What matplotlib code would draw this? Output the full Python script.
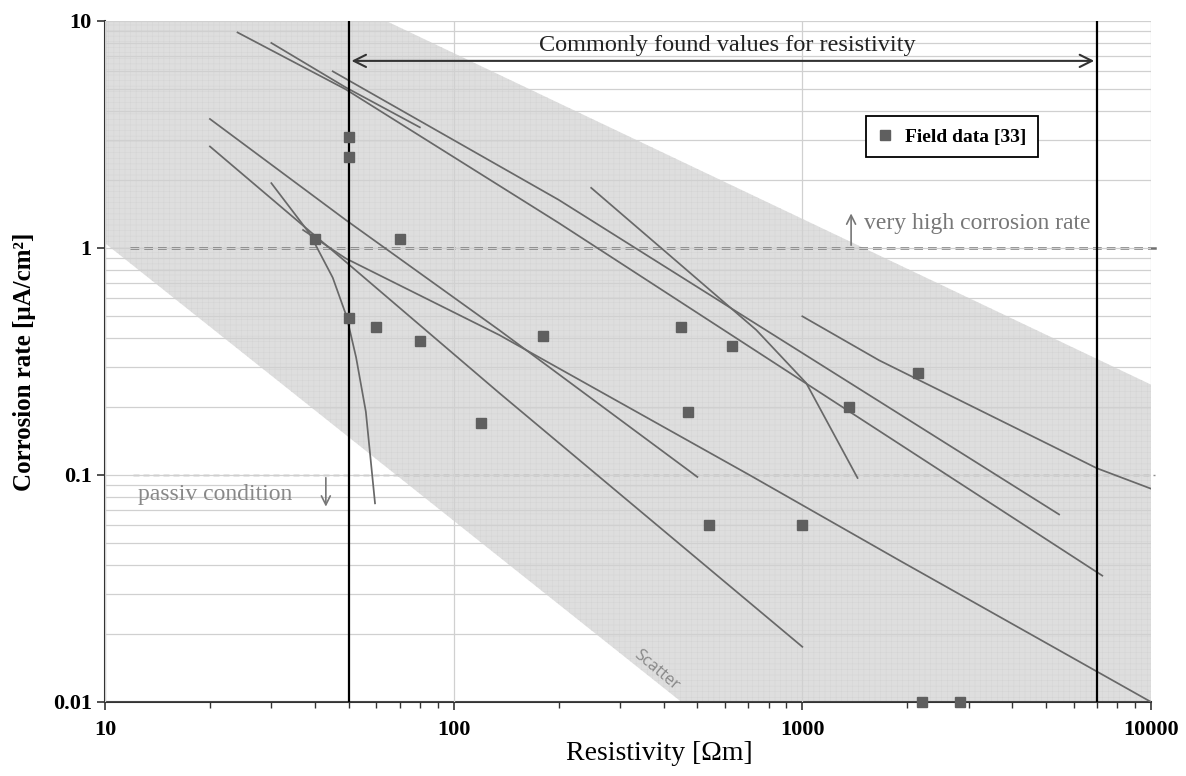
import numpy as np
import matplotlib.pyplot as plt

plt.rcParams["font.family"] = ["Liberation Serif", "DejaVu Serif"]
plt.rcParams["hatch.linewidth"] = 0.3

# field data [33]
field_res = [50, 50, 40, 70, 50, 60, 80, 120, 180, 450, 470, 630, 540, 1000, 2150, 1360, 2200, 2830]
field_rate = [3.08, 2.52, 1.1, 1.1, 0.49, 0.45, 0.39, 0.17, 0.41, 0.45, 0.19, 0.37, 0.06, 0.06, 0.28, 0.20, 0.01, 0.01]

# literature relations (resistivity, corrosion rate)
line_a_res = [24, 49, 200, 7250]
line_a_rate = [8.9, 5.0, 1.29, 0.036]
line_b_res = [30, 49, 80]
line_b_rate = [8.0, 5.1, 3.4]
line_c_res = [45, 200, 5450]
line_c_rate = [6.0, 1.63, 0.067]
line_d_res = [20, 49, 135, 500]
line_d_rate = [3.7, 1.33, 0.435, 0.098]
line_e_res = [20, 49, 135, 1000]
line_e_rate = [2.8, 0.87, 0.23, 0.0175]
line_f_res = [30, 38.6, 45, 49.3, 52.5, 56, 59.5]
line_f_rate = [1.93, 1.16, 0.74, 0.5, 0.33, 0.19, 0.075]
line_g_res = [37, 49, 135, 705, 1900, 10000]
line_g_rate = [1.2, 0.9, 0.414, 0.1, 0.042, 0.01]
line_h_res = [248, 445, 738, 1026, 1440]
line_h_rate = [1.84, 0.85, 0.435, 0.254, 0.097]
line_i_res = [1000, 1660, 7000, 10000]
line_i_rate = [0.5, 0.32, 0.107, 0.087]

lines = [(line_a_res, line_a_rate), (line_b_res, line_b_rate), (line_c_res, line_c_rate),
         (line_d_res, line_d_rate), (line_e_res, line_e_rate), (line_f_res, line_f_rate),
         (line_g_res, line_g_rate), (line_h_res, line_h_rate), (line_i_res, line_i_rate)]

# scatter band
band_upper_res = [10, 64, 10000]
band_upper_rate = [10, 10, 0.25]
band_lower_res = [10, 450, 10000]
band_lower_rate = [1.05, 0.01, 0.01]

common_range = [50, 7000]

fig = plt.figure(figsize=(11.86, 7.76), dpi=100)
ax = fig.add_axes([0.0885, 0.0954, 0.8820, 0.8776])
ax.set_xscale("log")
ax.set_yscale("log")
ax.set_xlim(10, 10000)
ax.set_ylim(0.01, 10)

band_x = band_upper_res + band_lower_res[::-1]
band_y = band_upper_rate + band_lower_rate[::-1]
ax.fill(band_x, band_y, facecolor="#dedede", edgecolor="#d3d3d3", lw=0, hatch="+++", zorder=0)

ax.set_axisbelow(False)
ax.grid(True, which="major", axis="x", color="#d0d0d0", lw=0.9, zorder=1)
ax.grid(True, which="both", axis="y", color="#d0d0d0", lw=0.9, zorder=1)

ax.text(382, 0.0138, "Scatter", rotation=-40, color="#888888", fontsize=12,
        family=["Open Sans"], ha="center", va="center", zorder=2)

ax.plot([11.8, 10500], [1, 1], ls=(0, (3.5, 2.0)), color="#707070", lw=1.8, clip_on=False, zorder=2)
ax.plot([12, 10300], [0.1, 0.1], ls=(0, (4.3, 2.9)), color="#8e8e8e", lw=1.0, clip_on=False, zorder=2)

for res, rate in lines:
    ax.plot(res, rate, color="#686868", lw=1.25, zorder=3)

for xv in common_range:
    ax.plot([xv, xv], [0.01, 10], color="black", lw=1.6, zorder=4)

ax.annotate("", xy=(common_range[0], 6.67), xytext=(common_range[1], 6.67),
            arrowprops=dict(arrowstyle="<->", color="#333333", lw=1.5, mutation_scale=22), zorder=4)
ax.text(610, 7.83, "Commonly found values for resistivity", ha="center", va="center",
        fontsize=17.5, color="#222222")

ax.annotate("", xy=(1380, 1.46), xytext=(1380, 1.0),
            arrowprops=dict(arrowstyle="->", color="#777777", lw=1.2, mutation_scale=16))
ax.text(1500, 1.28, "very high corrosion rate", ha="left", va="center", fontsize=17, color="#777777")

ax.annotate("", xy=(43, 0.0705), xytext=(43, 0.1),
            arrowprops=dict(arrowstyle="->", color="#777777", lw=1.2, mutation_scale=16))
ax.text(20.7, 0.0817, "passiv condition", ha="center", va="center", fontsize=17, color="#888888")

ax.plot(field_res, field_rate, ls="none", marker="s", ms=7.5, color="#5f5f5f",
        label="Field data [33]", clip_on=False, zorder=5)

leg = ax.legend(loc="upper left", bbox_to_anchor=(0.718, 0.874), fancybox=False,
                edgecolor="black", framealpha=1, handlelength=0.8, handletextpad=0.6,
                borderpad=0.6, prop={"size": 14, "weight": "bold"})
leg.get_frame().set_linewidth(1.3)
for h in leg.legend_handles:
    h.set_markersize(7)

for side in ["top", "right"]:
    ax.spines[side].set_visible(False)
ax.spines["left"].set_color("#333333")
ax.spines["bottom"].set_color("#333333")
ax.spines["left"].set_linewidth(1.5)
ax.spines["bottom"].set_linewidth(1.5)

ax.set_xticks([10, 100, 1000, 10000])
ax.set_xticklabels(["10", "100", "1000", "10000"])
ax.set_yticks([0.01, 0.1, 1, 10])
ax.set_yticklabels(["0.01", "0.1", "1", "10"])
ax.tick_params(axis="both", which="major", length=6, width=1.2, labelsize=16, color="#333333")
ax.tick_params(axis="x", which="minor", length=4, width=1.0, color="#333333")
ax.tick_params(axis="y", which="minor", length=0)
ax.tick_params(axis="x", which="major", pad=7)
for lab in ax.get_xticklabels() + ax.get_yticklabels():
    lab.set_fontweight("bold")

ax.set_xlabel("Resistivity [Ωm]", fontsize=20)
ax.xaxis.set_label_coords(0.53, -0.058)
ax.set_ylabel("Corrosion rate [μA/cm²]", fontsize=18, fontweight="bold", labelpad=12)

fig.savefig("out.png", dpi=100)
